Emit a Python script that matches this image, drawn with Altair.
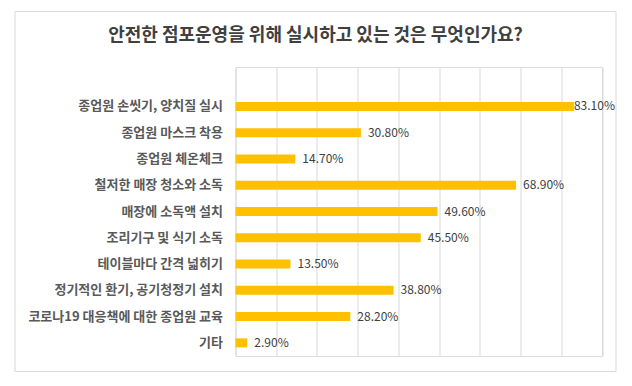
import altair as alt
import pandas as pd

categories = [
    "종업원 손씻기, 양치질 실시",
    "종업원 마스크 착용",
    "종업원 체온체크",
    "철저한 매장 청소와 소독",
    "매장에 소독액 설치",
    "조리기구 및 식기 소독",
    "테이블마다 간격 넓히기",
    "정기적인 환기, 공기청정기 설치",
    "코로나19 대응책에 대한 종업원 교육",
    "기타",
]
values = [83.1, 30.8, 14.7, 68.9, 49.6, 45.5, 13.5, 38.8, 28.2, 2.9]
x_ticks = [0, 10, 20, 30, 40, 50, 60, 70, 80, 90]

df = pd.DataFrame({"cat": categories, "val": values})
df["label"] = [f"{v:.2f}%" for v in values]
df["is_max"] = df["val"] == df["val"].max()

domain = [" "] + categories
FONT = "Noto Sans CJK KR"

y_enc = alt.Y("cat:N", sort=domain,
              scale=alt.Scale(domain=domain, paddingInner=0, paddingOuter=0),
              axis=alt.Axis(title=None, domain=False, ticks=False, grid=False,
                            labelFont=FONT, labelFontSize=13, labelFontWeight="bold",
                            labelColor="#595959", labelPadding=13, labelLimit=400))
x_enc = alt.X("val:Q", scale=alt.Scale(domain=[0, 90], nice=False),
              axis=alt.Axis(title=None, values=x_ticks, labels=False, ticks=False,
                            domain=False, grid=True, gridColor="#d9d9d9", gridWidth=1))

base = alt.Chart(df)

bars = base.mark_bar(color="#FFC000", size=9).encode(x=x_enc, y=y_enc)

labels = base.transform_filter("!datum.is_max").mark_text(
    align="left", baseline="middle", dx=7, font=FONT, fontSize=12, color="#404040"
).encode(x="val:Q", y=alt.Y("cat:N", sort=domain), text="label:N")

labels_max = base.transform_filter("datum.is_max").mark_text(
    align="left", baseline="middle", dx=0, font=FONT, fontSize=12, color="#404040"
).encode(x="val:Q", y=alt.Y("cat:N", sort=domain), text="label:N")

frame = alt.Chart(pd.DataFrame({"a": [0]})).mark_rect(
    fill=None, stroke="#d9d9d9", strokeWidth=1
).encode(x=alt.value(-220.5), x2=alt.value(380.5), y=alt.value(-55.5), y2=alt.value(304.5))

chart = alt.layer(frame, bars, labels, labels_max).properties(
    width=366.5, height=289,
    padding={"left": 227.5, "top": 59, "right": 20, "bottom": 20},
    autosize=alt.AutoSizeParams(type="none"),
    title=alt.TitleParams(
        "안전한 점포운영을 위해 실시하고 있는 것은 무엇인가요?",
        font=FONT, fontSize=18, fontWeight="bold", color="#404040",
        anchor="middle", frame="bounds", offset=-34,
    ),
).configure_view(stroke=None).configure(background="white")

chart.save("out.html", embed_options={"renderer": "svg", "actions": False})
